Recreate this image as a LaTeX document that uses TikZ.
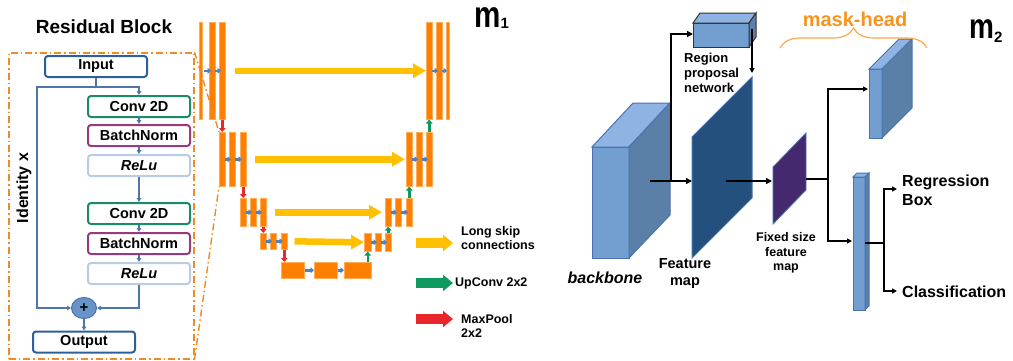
\documentclass[tikz,border=0pt]{standalone}
\usepackage{fontspec}
\setmainfont{Liberation Sans}
\usetikzlibrary{arrows.meta, shapes.geometric, decorations.pathreplacing}

\definecolor{unetorange}{HTML}{FF8000}
\definecolor{skipyellow}{HTML}{FFC000}
\definecolor{poolred}{HTML}{E8262B}
\definecolor{upgreen}{HTML}{0E9A5E}
\definecolor{convblue}{HTML}{4F81BD}
\definecolor{resblue}{HTML}{2F5F98}
\definecolor{resgreen}{HTML}{1B8A6B}
\definecolor{respurple}{HTML}{953B80}
\definecolor{respale}{HTML}{B8CCE4}
\definecolor{frameorange}{HTML}{F08A24}
\definecolor{cubefront}{HTML}{729FCF}
\definecolor{cubetop}{HTML}{8FB4E3}
\definecolor{cubeside}{HTML}{5B80A8}
\definecolor{cubeedge}{HTML}{4A72B0}
\definecolor{featblue}{HTML}{24507E}
\definecolor{fixpurple}{HTML}{45296F}
\definecolor{headorange}{HTML}{F7941D}

\tikzset{
  resbox/.style={draw=#1, rounded corners=3pt, line width=2pt, minimum width=102pt,
    minimum height=21pt, inner sep=0pt, font=\bfseries\fontsize{14.5}{16}\selectfont},
  resarrow/.style={draw=resblue!85!white, line width=1.2pt, -{Triangle[length=4pt,width=4.5pt]}},
  resline/.style={draw=resblue!85!white, line width=1.2pt},
  bar/.style={fill=unetorange, draw=unetorange!65!white, line width=0.5pt, inner sep=0pt, anchor=north west},
  convarrow/.style={draw=convblue, line width=2.5pt, -{Triangle[length=3.5pt,width=6pt]}},
  poolarrow/.style={draw=poolred, line width=2.5pt, -{Triangle[length=4pt,width=6.5pt]}},
  uparrow/.style={draw=upgreen, line width=2.5pt, -{Triangle[length=4pt,width=6.5pt]}},
  skiparrow/.style={draw=skipyellow, line width=6.5pt, -{Triangle[length=13pt,width=14pt]}},
  legarrow/.style={draw=#1, line width=9.5pt, -{Triangle[length=10pt,width=16pt]}},
  legtext/.style={font=\bfseries\fontsize{12.5}{14}\selectfont, align=left, inner sep=0pt, anchor=west},
  zoomline/.style={draw=frameorange, line width=1.4pt, dash pattern=on 7pt off 3pt on 1.5pt off 3pt},
  maskarrow/.style={line width=1.8pt, -{Triangle[length=6pt,width=6pt]}},
  headarrow/.style={line width=1.3pt, -{Triangle[length=5pt,width=5pt]}},
  rtext/.style={font=\bfseries\fontsize{13}{15}\selectfont, inner sep=0pt}
}

\begin{document}
\begin{tikzpicture}[x=1pt, y=-1pt]
  \useasboundingbox (0,0) rectangle (1013,360);

  % residual block
  \node[font=\bfseries\fontsize{19}{19}\selectfont, anchor=base] (restitle) at (104,33) {Residual Block};
  \node[draw=frameorange, line width=1.5pt, dash pattern=on 7pt off 3pt on 1.5pt off 3pt,
        minimum width=185pt, minimum height=306pt, anchor=north west, inner sep=0pt] (frame) at (8,52) {};
  \node[resbox=resblue] (input) at (96,66.5) {Input};
  \node[resbox=resgreen] (conva) at (139,106.5) {Conv 2D};
  \node[resbox=respurple] (norma) at (139,135.5) {BatchNorm};
  \node[resbox=respale] (relua) at (139,165.5) {\itshape ReLu};
  \node[resbox=resgreen] (convb) at (139,213.5) {Conv 2D};
  \node[resbox=respurple] (normb) at (139,243.5) {BatchNorm};
  \node[resbox=respale] (relub) at (139,273.5) {\itshape ReLu};
  \node[ellipse, fill=convblue!85!white, draw=cubeedge, line width=1pt, minimum width=25pt,
        minimum height=21pt, inner sep=0pt, font=\bfseries\fontsize{15}{15}\selectfont] (plus) at (84,308) {+};
  \node[resbox=resblue] (output) at (84,342) {Output};
  \node[rotate=90, font=\bfseries\fontsize{16}{16}\selectfont] (ident) at (24,188) {Identity x};
  \coordinate (split) at (96,87);
  \coordinate (idleft) at (37,308);

  \draw[resline] (input.south) -- (split);
  \draw[resarrow] (split) -| (conva.north);
  \draw[resarrow] (split) -| (idleft) -- (plus.west);
  \draw[resarrow] (conva) -- (norma);
  \draw[resarrow] (norma) -- (relua);
  \draw[resarrow] (relua) -- (convb);
  \draw[resarrow] (convb) -- (normb);
  \draw[resarrow] (normb) -- (relub);
  \draw[resarrow] (relub.south) |- (plus.east);
  \draw[resarrow] (plus) -- (output);

  % u-net, left side
  \node[bar, minimum width=3pt, minimum height=97pt] (l1a) at (199,22) {};
  \node[bar, minimum width=6pt, minimum height=97pt] (l1b) at (209,22) {};
  \node[bar, minimum width=6pt, minimum height=97pt] (l1c) at (219,22) {};
  \node[bar, minimum width=6pt, minimum height=54pt] (l2a) at (219,132) {};
  \node[bar, minimum width=6pt, minimum height=54pt] (l2b) at (229,132) {};
  \node[bar, minimum width=6pt, minimum height=54pt] (l2c) at (240,132) {};
  \node[bar, minimum width=6pt, minimum height=28pt] (l3a) at (240,198) {};
  \node[bar, minimum width=6pt, minimum height=28pt] (l3b) at (250,198) {};
  \node[bar, minimum width=6pt, minimum height=28pt] (l3c) at (260,198) {};
  \node[bar, minimum width=6pt, minimum height=16pt] (l4a) at (260,233) {};
  \node[bar, minimum width=6pt, minimum height=16pt] (l4b) at (270,233) {};
  \node[bar, minimum width=6pt, minimum height=16pt] (l4c) at (281,233) {};
  % bottom
  \node[bar, minimum width=23pt, minimum height=16pt] (l5a) at (281,262) {};
  \node[bar, minimum width=23pt, minimum height=16pt] (l5b) at (314,262) {};
  \node[bar, minimum width=27pt, minimum height=16pt] (l5c) at (344,262) {};
  % right side
  \node[bar, minimum width=7pt, minimum height=18pt] (l4ra) at (364,233) {};
  \node[bar, minimum width=6pt, minimum height=18pt] (l4rb) at (375,233) {};
  \node[bar, minimum width=6pt, minimum height=18pt] (l4rc) at (385,233) {};
  \node[bar, minimum width=6pt, minimum height=28pt] (l3ra) at (385,198) {};
  \node[bar, minimum width=6pt, minimum height=28pt] (l3rb) at (395,198) {};
  \node[bar, minimum width=6pt, minimum height=28pt] (l3rc) at (406,198) {};
  \node[bar, minimum width=6pt, minimum height=54pt] (l2ra) at (406,132) {};
  \node[bar, minimum width=6pt, minimum height=54pt] (l2rb) at (416,132) {};
  \node[bar, minimum width=6pt, minimum height=54pt] (l2rc) at (426,132) {};
  \node[bar, minimum width=6pt, minimum height=97pt] (l1ra) at (426,22) {};
  \node[bar, minimum width=6pt, minimum height=97pt] (l1rb) at (436,22) {};
  \node[bar, minimum width=3pt, minimum height=97pt] (l1rc) at (446,22) {};

  \draw[convarrow] ([xshift=1pt]l1a.east) -- ([xshift=2pt]l1b.west);
  \draw[convarrow] ([xshift=-1pt]l1b.east) -- ([xshift=2pt]l1c.west);
  \draw[convarrow] ([xshift=-1pt]l2a.east) -- ([xshift=2pt]l2b.west);
  \draw[convarrow] ([xshift=-1pt]l2b.east) -- ([xshift=2pt]l2c.west);
  \draw[convarrow] ([xshift=-1pt]l3a.east) -- ([xshift=2pt]l3b.west);
  \draw[convarrow] ([xshift=-1pt]l3b.east) -- ([xshift=2pt]l3c.west);
  \draw[convarrow] ([xshift=-1pt]l4a.east) -- ([xshift=2pt]l4b.west);
  \draw[convarrow] ([xshift=-1pt]l4b.east) -- ([xshift=2pt]l4c.west);
  \draw[convarrow] (l5a.east) -- (l5b.west);
  \draw[convarrow] (l5b.east) -- (l5c.west);
  \draw[convarrow] ([xshift=-1pt]l4ra.east) -- ([xshift=2pt]l4rb.west);
  \draw[convarrow] ([xshift=-1pt]l4rb.east) -- ([xshift=2pt]l4rc.west);
  \draw[convarrow] ([xshift=-1pt]l3ra.east) -- ([xshift=2pt]l3rb.west);
  \draw[convarrow] ([xshift=-1pt]l3rb.east) -- ([xshift=2pt]l3rc.west);
  \draw[convarrow] ([xshift=-1pt]l2ra.east) -- ([xshift=2pt]l2rb.west);
  \draw[convarrow] ([xshift=-1pt]l2rb.east) -- ([xshift=2pt]l2rc.west);
  \draw[convarrow] ([xshift=-1pt]l1ra.east) -- ([xshift=2pt]l1rb.west);
  \draw[convarrow] ([xshift=-1pt]l1rb.east) -- ([xshift=1pt]l1rc.west);

  \draw[poolarrow] (l1c.south) -- (l2a.north);
  \draw[poolarrow] (l2c.south) -- (l3a.north);
  \draw[poolarrow] (l3c.south) -- (l4a.north);
  \draw[poolarrow] (l4c.south) -- (l4c.south |- l5a.north);
  \draw[uparrow] (l4ra.south |- l5c.north) -- (l4ra.south);
  \draw[uparrow] (l4rc.north) -- (l3ra.south);
  \draw[uparrow] (l3rc.north) -- (l2ra.south);
  \draw[uparrow] (l2rc.north) -- (l1ra.south);

  \draw[skiparrow, shorten <=9pt] (l1c.east) -- (l1ra.west);
  \draw[skiparrow, shorten <=8pt, shorten >=1pt] (l2c.east) -- (l2ra.west);
  \draw[skiparrow, shorten <=8pt, shorten >=3pt] (l3c.east) -- (l3ra.west);
  \draw[skiparrow, shorten <=7pt] (l4c.east) -- (l4ra.west);

  \draw[zoomline] (frame.north east) -- (l2a.north west);
  \draw[zoomline] (frame.south east) -- (l2a.south west);

  \node[inner sep=0pt, anchor=base west] (mone) at (474,27)
    {\scalebox{0.8}[1]{\bfseries\fontsize{37}{37}\selectfont m}\raisebox{-1pt}{\bfseries\fontsize{15}{15}\selectfont 1}};

  % legend
  \coordinate (skipa) at (416,243);
  \coordinate (skipb) at (453,243);
  \coordinate (upa) at (416,283);
  \coordinate (upb) at (453,283);
  \coordinate (poola) at (416,319);
  \coordinate (poolb) at (453,319);
  \draw[legarrow=skipyellow] (skipa) -- (skipb);
  \draw[legarrow=upgreen] (upa) -- (upb);
  \draw[legarrow=poolred] (poola) -- (poolb);
  \node[legtext] (skiptext) at (461,238) {Long skip\\connections};
  \node[legtext] (uptext) at (455,283) {UpConv 2x2};
  \node[legtext] (pooltext) at (461,326) {MaxPool\\2x2};

  % mask r-cnn
  \filldraw[fill=cubefront, draw=cubeedge, line width=1pt] (592,147) rectangle (629,258);
  \filldraw[fill=cubetop, draw=cubeedge, line width=1pt] (592,147) -- (633,103) -- (670,103) -- (629,147) -- cycle;
  \filldraw[fill=cubeside, draw=cubeedge, line width=1pt] (629,147) -- (670,103) -- (670,215) -- (629,258) -- cycle;
  \filldraw[fill=featblue, draw=cubeedge, line width=1pt] (692,137) -- (752,77) -- (752,198) -- (692,258) -- cycle;
  \filldraw[fill=fixpurple, draw=cubeedge, line width=0.8pt] (773,167) -- (806,133) -- (806,190) -- (773,224) -- cycle;
  % region proposal box
  \filldraw[fill=cubefront, draw=black!80, line width=1pt] (693,23) rectangle (749,47);
  \filldraw[fill=cubetop, draw=black!80, line width=1pt] (693,23) -- (700,13) -- (756,13) -- (749,23) -- cycle;
  \filldraw[fill=cubeside, draw=black!80, line width=1pt] (749,23) -- (756,13) -- (756,37) -- (749,47) -- cycle;
  % mask head box
  \filldraw[fill=cubefront, draw=cubeedge, line width=1pt] (869,69) rectangle (882,138);
  \filldraw[fill=cubetop, draw=cubeedge, line width=1pt] (869,69) -- (899,39) -- (912,39) -- (882,69) -- cycle;
  \filldraw[fill=cubeside, draw=cubeedge, line width=1pt] (882,69) -- (912,39) -- (912,108) -- (882,138) -- cycle;
  % fully connected box
  \filldraw[fill=cubefront, draw=cubeedge, line width=1pt] (853,177) rectangle (865,310);
  \filldraw[fill=cubetop, draw=cubeedge, line width=1pt] (853,177) -- (857,173) -- (869,173) -- (865,177) -- cycle;
  \filldraw[fill=cubeside, draw=cubeedge, line width=1pt] (865,177) -- (869,173) -- (869,306) -- (865,310) -- cycle;

  \coordinate (bbout) at (650,181);
  \coordinate (fmin) at (692,181);
  \coordinate (rpnsplit) at (671,181);
  \coordinate (rpnin) at (693,34);
  \coordinate (rpnout) at (752,29);
  \coordinate (fmtop) at (752,73);
  \coordinate (fmout) at (726,181);
  \coordinate (fixin) at (772,181);
  \coordinate (fixout) at (806,179);
  \coordinate (fixsplit) at (828,179);
  \coordinate (maskin) at (868,89);
  \coordinate (fcin) at (852,241);
  \coordinate (fcout) at (865,243);
  \coordinate (fcsplit) at (884,243);
  \coordinate (regin) at (897,189);
  \coordinate (clsin) at (897,291);

  \draw[maskarrow] (bbout) -- (fmin);
  \draw[maskarrow] (rpnsplit) |- (rpnin);
  \draw[headarrow] (rpnout) -- (fmtop);
  \draw[maskarrow] (fmout) -- (fixin);
  \draw[line width=1.8pt] (fixout) -- (fixsplit);
  \draw[headarrow] (fixsplit) |- (maskin);
  \draw[headarrow] (fixsplit) |- (fcin);
  \draw[line width=1.5pt] (fcout) -- (fcsplit);
  \draw[headarrow] (fcsplit) |- (regin);
  \draw[headarrow] (fcsplit) |- (clsin);

  \node[rtext, anchor=north west, align=left] (rpntext) at (684,53) {Region\\proposal\\network};
  \node[font=\bfseries\itshape\fontsize{16}{16}\selectfont] (bbtext) at (605,278) {backbone};
  \node[rtext, font=\bfseries\fontsize{14.5}{17}\selectfont, align=center] (fmtext) at (685,274) {Feature\\map};
  \node[rtext, font=\bfseries\fontsize{12.5}{14.5}\selectfont, align=center] (fixtext) at (786,253) {Fixed size\\feature\\map};
  \node[rtext, font=\bfseries\fontsize{16}{19}\selectfont, anchor=west, align=left] (regtext) at (902,190) {Regression\\Box};
  \node[rtext, font=\bfseries\fontsize{16}{19}\selectfont, anchor=west] (clstext) at (902,292) {Classification};

  \draw[headorange!80!white, line width=1.2pt, decorate, decoration={brace, amplitude=20pt}] (780,48) -- (927,48);
  \node[text=headorange, font=\bfseries\fontsize{20}{20}\selectfont] (masktext) at (855,19) {mask-head};

  \node[inner sep=0pt, anchor=base west] (mtwo) at (969,38)
    {\scalebox{0.8}[1]{\bfseries\fontsize{35}{35}\selectfont m}\raisebox{-4pt}{\bfseries\fontsize{15}{15}\selectfont 2}};
\end{tikzpicture}
\end{document}
